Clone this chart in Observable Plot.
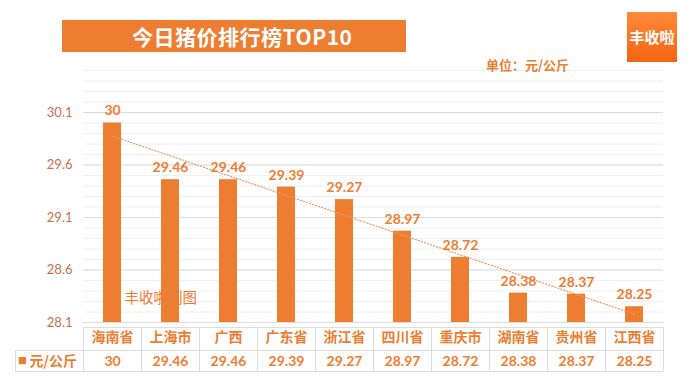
<!DOCTYPE html>
<html><head><meta charset="utf-8">
<script src="https://cdn.jsdelivr.net/npm/d3@7"></script>
<script src="https://cdn.jsdelivr.net/npm/@observablehq/plot@0.6"></script>
<style>
html,body{margin:0;padding:0;background:#fff;}
#wrap{position:relative;width:692px;height:389px;overflow:hidden;font-family:Lato,"Noto Sans CJK SC",sans-serif;}
#wrap svg{position:absolute;left:0;top:0;}
.title{position:absolute;left:62px;top:20px;width:344px;height:32px;background:#ED7D31;}
.title span{position:absolute;left:70px;top:0;line-height:32px;color:#fff;font-size:21px;font-weight:bold;font-family:"Noto Sans CJK SC",sans-serif;letter-spacing:0.5px;}
.brand{position:absolute;left:627px;top:12px;width:50px;height:50px;background:linear-gradient(#ff8a3a,#f46411);color:#fff;font-size:15px;font-weight:bold;text-align:center;line-height:50px;font-family:"Noto Sans CJK SC",sans-serif;}
.unit{position:absolute;left:486px;top:55px;color:#ED7D31;font-size:13px;font-weight:bold;font-family:"Noto Sans CJK SC",sans-serif;line-height:20px;}
</style>
</head><body>
<div id="wrap">
  <div class="title"><span id="title"></span></div>
  <div class="brand" id="brand"></div>
  <div class="unit" id="unit"></div>
</div>
<script>
const titleText = "今日猪价排行榜TOP10";
const brandText = "丰收啦";
const unitText = "单位：元/公斤";
const watermark = "丰收啦制图";
const seriesName = "元/公斤";
const categories = ["海南省","上海市","广西","广东省","浙江省","四川省","重庆市","湖南省","贵州省","江西省"];
const prices = [30, 29.46, 29.46, 29.39, 29.27, 28.97, 28.72, 28.38, 28.37, 28.25];
const yTicks = [28.1, 28.6, 29.1, 29.6, 30.1];
const yDomain = [28.1, 30.5];

document.getElementById("title").textContent = titleText;
document.getElementById("brand").textContent = brandText;
document.getElementById("unit").textContent = unitText;

const data = categories.map((c, i) => ({cat: c, price: prices[i], idx: i + 1}));

// linear trend line (least squares) from the data
const mx = d3.mean(data, d => d.idx), my = d3.mean(data, d => d.price);
const slope = d3.sum(data, d => (d.idx - mx) * (d.price - my)) / d3.sum(data, d => (d.idx - mx) ** 2);
const trend = data.map(d => ({cat: d.cat, fit: my + slope * (d.idx - mx)}));

const minorGrid = d3.range(281, 306).map(v => v / 10);
const orange = "#ED7D31";
const axisColor = "#c8704a";

const plot = Plot.plot({
  width: 692, height: 389,
  marginLeft: 83, marginRight: 29, marginTop: 70, marginBottom: 67,
  style: {fontFamily: 'Lato,"Noto Sans CJK SC",sans-serif', background: "transparent"},
  x: {domain: categories, paddingInner: 0.69, paddingOuter: 0.345, label: null},
  y: {domain: yDomain, label: null},
  marks: [
    Plot.ruleY(minorGrid, {stroke: "#f0f0f0", strokeWidth: 1}),
    Plot.ruleY(yTicks, {stroke: "#dcdcdc", strokeWidth: 1}),
    Plot.text([watermark], {frameAnchor: "bottom-left", dx: 41, dy: -24, textAnchor: "start", lineAnchor: "middle", fill: orange, fontSize: 14.5, fontFamily: '"Noto Sans CJK SC",sans-serif'}),
    Plot.barY(data, {x: "cat", y1: yDomain[0], y2: "price", fill: orange}),
    Plot.line(trend, {x: "cat", y: "fit", stroke: "#e49a68", strokeWidth: 1.2, strokeDasharray: "1.2,2"}),
    Plot.text(data, {x: "cat", y: "price", text: d => String(d.price), dy: -12, lineAnchor: "middle", fill: orange, fontWeight: "bold", fontSize: 14}),
    Plot.axisY(yTicks, {tickSize: 0, tickPadding: 11, fontSize: 13, fill: axisColor, tickFormat: d => d.toFixed(1), label: null}),
    Plot.axisX({tickSize: 0, tickPadding: 10, fontSize: 14, fontWeight: "bold", fill: orange, fontFamily: '"Noto Sans CJK SC",sans-serif', label: null}),
    Plot.text(data, {x: "cat", frameAnchor: "bottom", text: d => String(d.price), dy: 39, lineAnchor: "middle", fill: orange, fontWeight: "bold", fontSize: 14}),
    Plot.text(["■"], {frameAnchor: "bottom-left", dx: -61, dy: 39, lineAnchor: "middle", textAnchor: "middle", fill: orange, fontSize: 9}),
    Plot.text([seriesName], {frameAnchor: "bottom-left", dx: -54, dy: 39, lineAnchor: "middle", textAnchor: "start", fill: orange, fontWeight: "bold", fontSize: 14, fontFamily: '"Noto Sans CJK SC",sans-serif'})
  ]
});

// data table borders drawn from the x scale
const xs = plot.scale("x");
const svg = d3.select(plot);
const g = svg.append("g").attr("stroke", "#dcdcdc").attr("stroke-width", 1).attr("shape-rendering", "crispEdges");
const centers = categories.map(c => xs.apply(c) + xs.bandwidth / 2);
const step = xs.step;
const left = centers[0] - step / 2, right = centers[centers.length - 1] + step / 2;
const yTop = 327, yMid = 350, yBot = 371, tableLeft = 15;
g.append("line").attr("x1", left).attr("x2", right).attr("y1", yTop).attr("y2", yTop);
g.append("line").attr("x1", tableLeft).attr("x2", right).attr("y1", yMid).attr("y2", yMid);
g.append("line").attr("x1", tableLeft).attr("x2", right).attr("y1", yBot).attr("y2", yBot);
g.append("line").attr("x1", tableLeft).attr("x2", tableLeft).attr("y1", yMid).attr("y2", yBot);
[left, ...centers.map(c => c + step / 2)].forEach(x => {
  g.append("line").attr("x1", x).attr("x2", x).attr("y1", yTop).attr("y2", yBot);
});

document.getElementById("wrap").prepend(plot);
</script>
</body></html>
